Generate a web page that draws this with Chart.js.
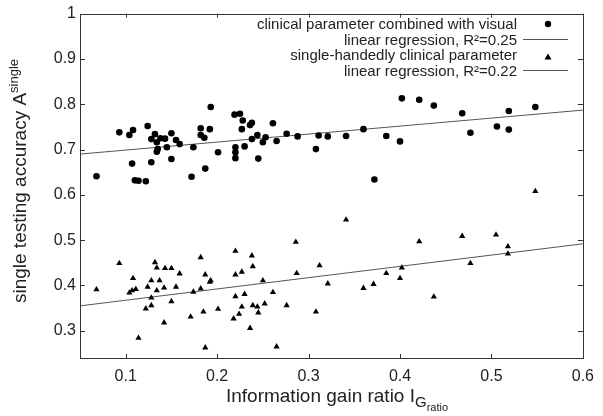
<!DOCTYPE html>
<html>
<head>
<meta charset="utf-8">
<script src="https://cdn.jsdelivr.net/npm/chart.js@4/dist/chart.umd.min.js"></script>
<style>
  html, body { margin: 0; padding: 0; background: #fff; }
  #wrap { width: 603px; height: 416px; }
</style>
</head>
<body>
<div id="wrap"><canvas id="chart" width="603" height="416"></canvas></div>
<script>
// data
const visualX = [0.068, 0.093, 0.104, 0.108, 0.107, 0.110, 0.114, 0.122, 0.124, 0.128,
  0.128, 0.132, 0.138, 0.134, 0.143, 0.145, 0.135, 0.134, 0.150, 0.155,
  0.159, 0.150, 0.174, 0.172, 0.182, 0.182, 0.186, 0.187, 0.193, 0.192,
  0.201, 0.219, 0.225, 0.228, 0.238, 0.236, 0.227, 0.220, 0.220, 0.220,
  0.230, 0.238, 0.244, 0.250, 0.253, 0.245, 0.261, 0.265, 0.276, 0.288,
  0.308, 0.311, 0.321, 0.341, 0.360, 0.372, 0.385, 0.400, 0.402, 0.421,
  0.437, 0.468, 0.477, 0.506, 0.519, 0.519, 0.548];
const visualY = [0.641, 0.738, 0.732, 0.743, 0.669, 0.632, 0.631, 0.630, 0.752, 0.672,
  0.723, 0.734, 0.725, 0.716, 0.724, 0.705, 0.701, 0.695, 0.736, 0.721,
  0.712, 0.679, 0.705, 0.640, 0.747, 0.732, 0.726, 0.658, 0.794, 0.745,
  0.694, 0.777, 0.779, 0.764, 0.759, 0.754, 0.745, 0.705, 0.694, 0.681,
  0.707, 0.723, 0.732, 0.716, 0.727, 0.680, 0.758, 0.719, 0.735, 0.729,
  0.701, 0.731, 0.729, 0.730, 0.745, 0.634, 0.730, 0.718, 0.813, 0.810,
  0.797, 0.780, 0.737, 0.751, 0.785, 0.744, 0.794];

const clinicalX = [0.068, 0.093, 0.108, 0.104, 0.107, 0.111, 0.114, 0.124, 0.122, 0.128,
  0.128, 0.128, 0.132, 0.134, 0.137, 0.134, 0.143, 0.150, 0.142, 0.142,
  0.150, 0.155, 0.159, 0.171, 0.174, 0.182, 0.182, 0.185, 0.187, 0.187,
  0.192, 0.193, 0.201, 0.220, 0.220, 0.220, 0.218, 0.224, 0.227, 0.227,
  0.230, 0.238, 0.239, 0.236, 0.239, 0.244, 0.245, 0.250, 0.252, 0.261,
  0.265, 0.276, 0.286, 0.287, 0.312, 0.321, 0.308, 0.341, 0.360, 0.371,
  0.385, 0.400, 0.402, 0.421, 0.437, 0.468, 0.477, 0.505, 0.518, 0.518, 0.548];
const clinicalY = [0.391, 0.449, 0.416, 0.384, 0.389, 0.392, 0.284, 0.397, 0.349, 0.373,
  0.411, 0.356, 0.451, 0.439, 0.411, 0.389, 0.438, 0.438, 0.395, 0.318,
  0.365, 0.397, 0.426, 0.331, 0.386, 0.462, 0.393, 0.342, 0.424, 0.263,
  0.408, 0.411, 0.348, 0.476, 0.424, 0.376, 0.327, 0.337, 0.353, 0.430,
  0.381, 0.466, 0.442, 0.306, 0.356, 0.353, 0.340, 0.411, 0.360, 0.385,
  0.265, 0.356, 0.496, 0.427, 0.444, 0.404, 0.342, 0.545, 0.394, 0.403,
  0.427, 0.416, 0.439, 0.497, 0.375, 0.509, 0.449, 0.512, 0.486, 0.470, 0.608];

// regression line ends
const regX = [0.05, 0.6];
const regVisualY = [0.690, 0.787];
const regClinicalY = [0.355, 0.492];

const xTicks = [0.1, 0.2, 0.3, 0.4, 0.5, 0.6];
const yTicks = [0.3, 0.4, 0.5, 0.6, 0.7, 0.8, 0.9, 1];

const legendLabels = [
  "clinical parameter combined with visual",
  "linear regression, R²=0.25",
  "single-handedly clinical parameter",
  "linear regression, R²=0.22",
];

const FONT = '"Liberation Sans", Arial, Helvetica, sans-serif';
Chart.defaults.font.family = FONT;
Chart.defaults.color = "#222";

const toPoints = (xs, ys) => xs.map((x, i) => ({ x: x, y: ys[i] }));

// рамка и внутренние засечки со всех четырёх сторон
const framePlugin = {
  id: "frame",
  afterDatasetsDraw(chart) {
    const { ctx, chartArea: a, scales } = chart;
    ctx.save();
    ctx.strokeStyle = "#333";
    ctx.lineWidth = 1;
    ctx.strokeRect(Math.round(a.left) + 0.5, Math.round(a.top) + 0.5,
      Math.round(a.right - a.left), Math.round(a.bottom - a.top));
    ctx.beginPath();
    scales.x.ticks.forEach((t) => {
      const px = Math.round(scales.x.getPixelForValue(t.value)) + 0.5;
      ctx.moveTo(px, a.bottom); ctx.lineTo(px, a.bottom - 4);
      ctx.moveTo(px, a.top); ctx.lineTo(px, a.top + 4);
    });
    scales.y.ticks.forEach((t) => {
      const py = Math.round(scales.y.getPixelForValue(t.value)) + 0.5;
      ctx.moveTo(a.left, py); ctx.lineTo(a.left + 5, py);
      ctx.moveTo(a.right, py); ctx.lineTo(a.right - 5, py);
    });
    ctx.stroke();
    ctx.restore();
  },
};

// подписи осей с индексами + легенда
const textPlugin = {
  id: "texts",
  afterDraw(chart) {
    const { ctx } = chart;
    ctx.save();
    ctx.fillStyle = "#222";
    ctx.textBaseline = "alphabetic";

    // x title: Information gain ratio I_{G_{ratio}}
    const parts = [
      { t: "Information gain ratio I", size: 19, dy: 0 },
      { t: "G", size: 15, dy: 5 },
      { t: "ratio", size: 11, dy: 9 },
    ];
    let w = 0;
    parts.forEach((p) => { ctx.font = p.size + "px " + FONT; p.w = ctx.measureText(p.t).width; w += p.w; });
    let x = 337 - w / 2;
    parts.forEach((p) => {
      ctx.font = p.size + "px " + FONT;
      ctx.textAlign = "left";
      ctx.fillText(p.t, x, 402 + p.dy);
      x += p.w;
    });

    // y title: single testing accuracy A^{single}
    ctx.save();
    ctx.translate(26, 181);
    ctx.rotate(-Math.PI / 2);
    const yp = [
      { t: "single testing accuracy A", size: 19, dy: 0 },
      { t: "single", size: 13, dy: -8 },
    ];
    w = 0;
    yp.forEach((p) => { ctx.font = p.size + "px " + FONT; p.w = ctx.measureText(p.t).width; w += p.w; });
    x = -w / 2;
    yp.forEach((p) => {
      ctx.font = p.size + "px " + FONT;
      ctx.textAlign = "left";
      ctx.fillText(p.t, x, p.dy);
      x += p.w;
    });
    ctx.restore();

    // легенда
    ctx.font = "15px " + FONT;
    ctx.textAlign = "right";
    const base = [29, 44.5, 60, 75.5];
    legendLabels.forEach((lbl, i) => ctx.fillText(lbl, 517, base[i]));

    ctx.fillStyle = "#000";
    ctx.beginPath();
    ctx.arc(548, 24, 3.2, 0, Math.PI * 2);
    ctx.fill();
    ctx.beginPath();
    ctx.moveTo(548, 53.5); ctx.lineTo(551.5, 59.5); ctx.lineTo(544.5, 59.5);
    ctx.closePath();
    ctx.fill();

    ctx.strokeStyle = "#555";
    ctx.lineWidth = 1;
    ctx.beginPath();
    ctx.moveTo(523, 39.5); ctx.lineTo(568, 39.5);
    ctx.moveTo(523, 70.5); ctx.lineTo(568, 70.5);
    ctx.stroke();
    ctx.restore();
  },
};

new Chart(document.getElementById("chart"), {
  type: "scatter",
  data: {
    datasets: [
      {
        label: legendLabels[0],
        data: toPoints(visualX, visualY),
        pointStyle: "circle",
        pointRadius: 3.3,
        backgroundColor: "#000",
        borderColor: "#000",
        borderWidth: 0,
      },
      {
        label: legendLabels[1],
        type: "line",
        data: toPoints(regX, regVisualY),
        borderColor: "#555",
        borderWidth: 1,
        pointRadius: 0,
        fill: false,
      },
      {
        label: legendLabels[2],
        data: toPoints(clinicalX, clinicalY),
        pointStyle: "triangle",
        pointRadius: 3.6,
        backgroundColor: "#000",
        borderColor: "#000",
        borderWidth: 0,
      },
      {
        label: legendLabels[3],
        type: "line",
        data: toPoints(regX, regClinicalY),
        borderColor: "#555",
        borderWidth: 1,
        pointRadius: 0,
        fill: false,
      },
    ],
  },
  options: {
    responsive: false,
    animation: false,
    events: [],
    layout: { padding: { top: 11, right: 16, left: 0, bottom: 0 } },
    plugins: {
      legend: { display: false },
      tooltip: { enabled: false },
    },
    scales: {
      x: {
        type: "linear",
        min: 0.05,
        max: 0.6,
        afterBuildTicks: (s) => { s.ticks = xTicks.map((v) => ({ value: v })); },
        afterFit: (s) => { s.height = 58; },
        grid: { display: false, drawTicks: false },
        border: { display: false },
        ticks: { font: { size: 16 }, padding: 9, color: "#222", maxRotation: 0,
          callback: (v) => String(v) },
      },
      y: {
        type: "linear",
        min: 0.24,
        max: 1,
        afterBuildTicks: (s) => { s.ticks = yTicks.map((v) => ({ value: v })); },
        afterFit: (s) => { s.width = 80; },
        grid: { display: false, drawTicks: false },
        border: { display: false },
        ticks: { font: { size: 16 }, padding: 4, color: "#222",
          callback: (v) => String(v) },
      },
    },
  },
  plugins: [framePlugin, textPlugin],
});
</script>
</body>
</html>
